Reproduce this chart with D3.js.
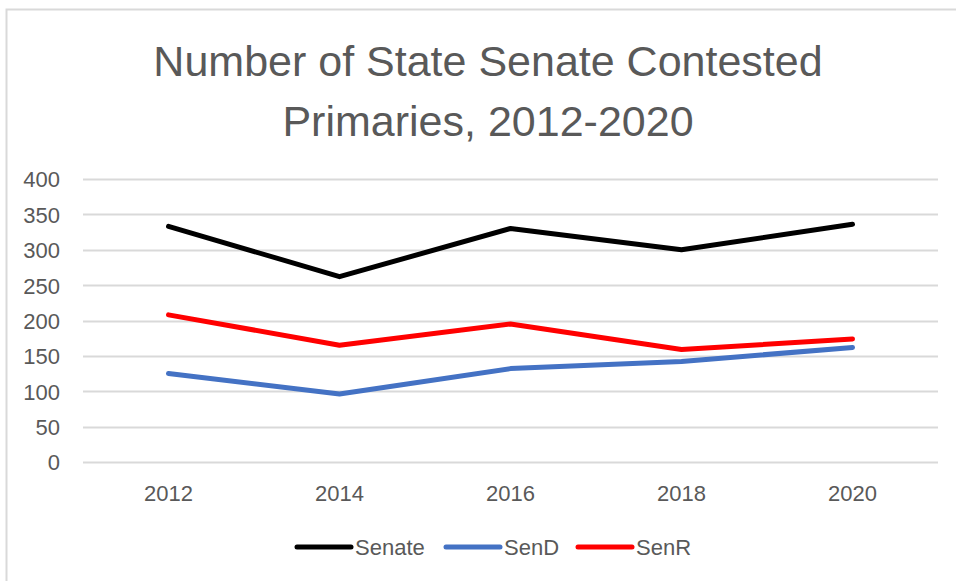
<!DOCTYPE html>
<html>
<head>
<meta charset="utf-8">
<script src="https://cdn.jsdelivr.net/npm/d3@7"></script>
<style>
  body { margin: 0; background: #fff; }
  text { font-family: "Liberation Sans Narrow", "Liberation Sans", sans-serif; fill: #595959; }
</style>
</head>
<body>
<svg id="chart"></svg>
<script>
const years = ["2012", "2014", "2016", "2018", "2020"];
const senate = [333, 262, 330, 300, 336];
const senD = [125, 96, 132, 142, 162];
const senR = [208, 165, 195, 159, 174];
const yTicks = [0, 50, 100, 150, 200, 250, 300, 350, 400];
const seriesNames = ["Senate", "SenD", "SenR"];
const seriesColors = ["#000000", "#4472C4", "#FF0000"];

const width = 956;
const height = 581;

const svg = d3.select("#chart").attr("width", width).attr("height", height);

// chart frame (only top and left edges show)
svg.append("path")
  .attr("d", "M6.5,581V9.5H956")
  .attr("fill", "none")
  .attr("stroke", "#d9d9d9")
  .attr("stroke-width", 2);

const title = svg.append("text")
  .attr("text-anchor", "middle")
  .style("font-size", "43px");
title.append("tspan").attr("x", 488).attr("y", 76).text("Number of State Senate Contested");
title.append("tspan").attr("x", 488).attr("y", 136).text("Primaries, 2012-2020");

const xScale = d3.scaleBand().domain(years).range([83, 938]);
const yScale = d3.scaleLinear().domain([0, 400]).range([462, 179]);

// gridlines
svg.append("g")
  .selectAll("line")
  .data(yTicks)
  .enter()
  .append("line")
  .attr("x1", 83)
  .attr("x2", 938)
  .attr("y1", (d) => Math.round(yScale(d)) + 0.5)
  .attr("y2", (d) => Math.round(yScale(d)) + 0.5)
  .attr("stroke", "#d9d9d9")
  .attr("stroke-width", 2);

// y axis labels
const yAxis = d3.axisLeft(yScale).tickValues(yTicks).tickSize(0).tickPadding(0);
svg.append("g")
  .attr("transform", "translate(60,0)")
  .call(yAxis)
  .call((g) => g.select(".domain").remove())
  .call((g) => g.selectAll("text")
    .style("font-size", "22px")
    .attr("font-family", null)
    .attr("fill", null)
    .attr("dy", "0.36em"));

// x axis labels
const xAxis = d3.axisBottom(xScale).tickSize(0).tickPadding(0);
svg.append("g")
  .attr("transform", "translate(0,485)")
  .call(xAxis)
  .call((g) => g.select(".domain").remove())
  .call((g) => g.selectAll("text")
    .style("font-size", "22px")
    .attr("font-family", null)
    .attr("fill", null)
    .attr("dy", "0.71em"));

const series = [senate, senD, senR];
const line = d3.line()
  .x((d, i) => xScale(years[i]) + xScale.bandwidth() / 2)
  .y((d) => yScale(d));

svg.append("g")
  .selectAll("path")
  .data(series)
  .enter()
  .append("path")
  .attr("d", line)
  .attr("fill", "none")
  .attr("stroke", (d, i) => seriesColors[i])
  .attr("stroke-width", 5)
  .attr("stroke-linecap", "round")
  .attr("stroke-linejoin", "round");

// legend
const legendX = [297, 446, 578];
const legend = svg.append("g")
  .selectAll("g")
  .data(seriesNames)
  .enter()
  .append("g")
  .attr("transform", (d, i) => `translate(${legendX[i]},547)`);

legend.append("line")
  .attr("x1", 0)
  .attr("x2", 54)
  .attr("stroke", (d, i) => seriesColors[i])
  .attr("stroke-width", 5)
  .attr("stroke-linecap", "round");

legend.append("text")
  .attr("x", 58)
  .attr("dy", "0.36em")
  .style("font-size", "22px")
  .text((d) => d);
</script>
</body>
</html>
